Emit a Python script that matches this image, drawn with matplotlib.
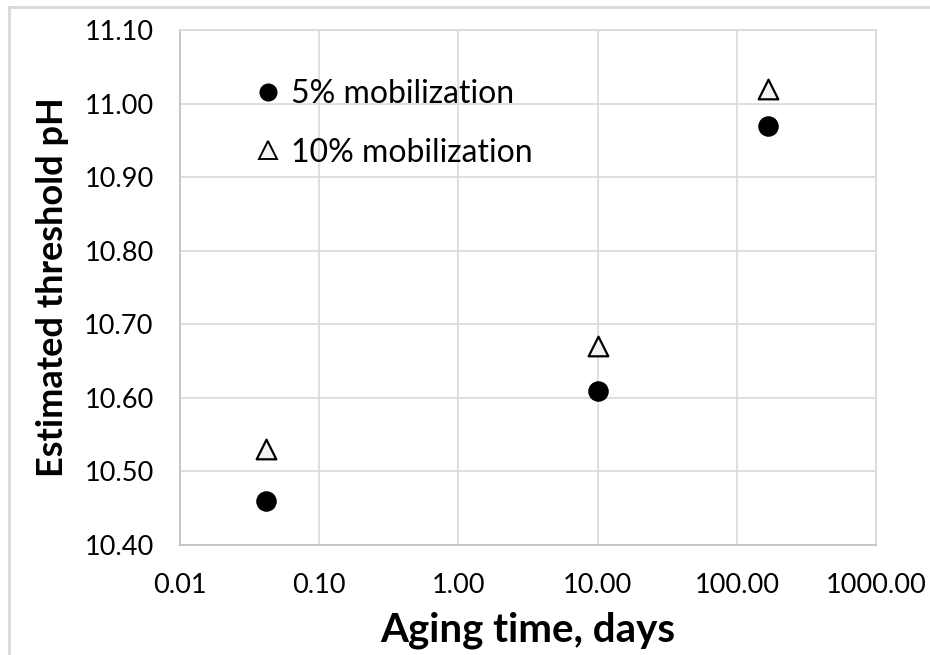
import matplotlib
matplotlib.use("Agg")
import matplotlib.pyplot as plt
from matplotlib.lines import Line2D
from matplotlib.ticker import FixedLocator, NullLocator

# Aging time (days) and estimated threshold pH
aging_days = [0.0417, 10.0, 168.0]
ph_5pct = [10.46, 10.61, 10.97]
ph_10pct = [10.53, 10.67, 11.02]

x_ticks = [0.01, 0.1, 1, 10, 100, 1000]
x_labels = ["0.01", "0.10", "1.00", "10.00", "100.00", "1000.00"]
y_ticks = [10.40, 10.50, 10.60, 10.70, 10.80, 10.90, 11.00, 11.10]

plt.rcParams['font.family'] = ['Lato', 'DejaVu Sans']

fig = plt.figure(figsize=(9.3, 6.55), dpi=100)
W, H = 930, 655
ax = fig.add_axes([180 / W, (H - 545) / H, 696 / W, 515 / H])

ax.scatter(aging_days, ph_5pct, s=190, marker='o', color='black', zorder=3)
ax.scatter(aging_days, ph_10pct, s=200, marker='^', facecolor='#f2f2f2',
           edgecolor='black', linewidth=1.6, zorder=3)

ax.set_xscale('log')
ax.set_xlim(0.01, 1000)
ax.set_ylim(10.40, 11.10)
ax.xaxis.set_major_locator(FixedLocator(x_ticks))
ax.xaxis.set_minor_locator(NullLocator())
ax.set_xticklabels(x_labels)
ax.set_yticks(y_ticks)
ax.set_yticklabels([f"{v:.2f}" for v in y_ticks])
ax.tick_params(length=0, labelsize=19.5, colors='black')
ax.tick_params(axis='y', pad=19)
ax.tick_params(axis='x', pad=20)
ax.grid(True, color='#d9d9d9', linewidth=1.2)
ax.set_axisbelow(True)
for sp in ax.spines.values():
    sp.set_color('#d9d9d9')
    sp.set_linewidth(1.2)
ax.spines['left'].set_color('#bfbfbf')
ax.spines['bottom'].set_color('#bfbfbf')

ax.set_xlabel('Aging time, days', fontsize=29, fontweight='bold', labelpad=10)
ax.set_ylabel('Estimated threshold pH', fontsize=26, fontweight='bold', labelpad=11)

handles = [
    Line2D([], [], linestyle='none', marker='o', markersize=12, color='black'),
    Line2D([], [], linestyle='none', marker='^', markersize=13,
           markerfacecolor='#f2f2f2', markeredgecolor='black', markeredgewidth=1.4),
]
ax.legend(handles, ['5% mobilization', '10% mobilization'], loc='upper left',
          bbox_to_anchor=(0.09, 0.93), frameon=False, fontsize=23,
          handlelength=0.8, handletextpad=0.3, labelspacing=0.9,
          borderaxespad=0)

# light frame lines along the top and left of the figure
fig.add_artist(Line2D([9 / W, 1], [1 - 7 / H, 1 - 7 / H], color='#d9d9d9', linewidth=2))
fig.add_artist(Line2D([9 / W, 9 / W], [0, 1 - 7 / H], color='#d9d9d9', linewidth=2))

fig.savefig('out.png', dpi=100)
